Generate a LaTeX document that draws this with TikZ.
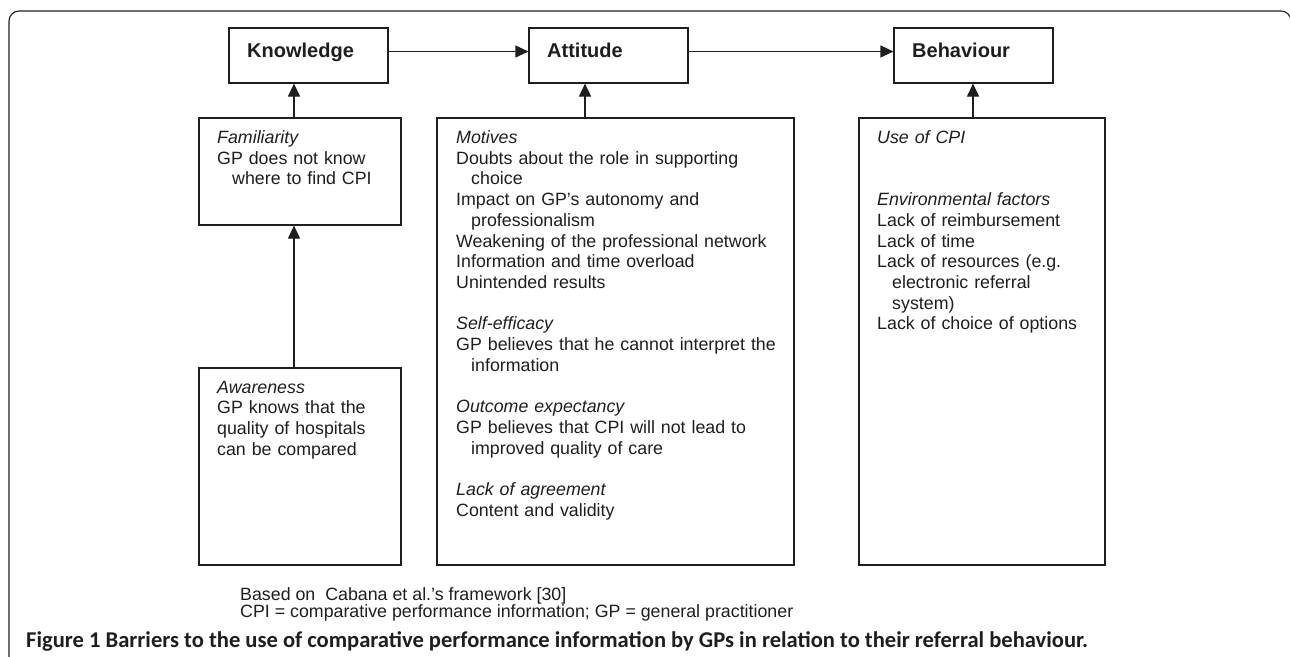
\documentclass[tikz,border=0pt]{standalone}
\usepackage{fontspec}
\setmainfont{Liberation Sans}
\newfontfamily\capfont{Carlito}
\usepackage{graphicx}
\usetikzlibrary{arrows.meta,calc}
\definecolor{ink}{HTML}{1E1E1E}
\newcommand\tstrut{\rule{0pt}{14pt}}
\tikzset{
  frame/.style={draw=ink, line width=1.1pt},
  boxed/.style={draw=ink, line width=1.2pt, rectangle, inner sep=0pt},
  head/.style={font=\fontsize{20}{24}\selectfont\bfseries, text=ink, inner sep=0pt, anchor=base west},
  body/.style={font=\fontsize{17.8}{20.7}\selectfont, text=ink, inner sep=0pt, anchor=north west, align=left},
  foot/.style={font=\fontsize{17.8}{19}\selectfont, text=ink, inner sep=0pt, anchor=base west},
  arr/.style={draw=ink, line width=1.2pt, -{Triangle[length=13pt,width=12pt]}},
}
\begin{document}
\begin{tikzpicture}[x=1pt,y=-1pt]
\useasboundingbox (0,0) rectangle (1290,656);
\draw[frame, rounded corners=10pt] (9,660) -- (9,11) -- (1291,11) -- (1291,40);

% top boxes
\node[boxed, minimum width=159pt, minimum height=55pt] (know) at (308.5,55.5) {};
\node[boxed, minimum width=159pt, minimum height=55pt] (atth) at (608.5,55.5) {};
\node[boxed, minimum width=159pt, minimum height=55pt] (behh) at (973.5,55.5) {};
\node[head] (knowt) at (247,57.5) {Knowledge};
\node[head] (attht) at (547,57.5) {Attitude};
\node[head] (behht) at (912,57.5) {Behaviour};

% content boxes
\node[boxed, minimum width=202pt, minimum height=107pt] (fam) at (300,171.5) {};
\node[boxed, minimum width=202pt, minimum height=197pt] (aware) at (300,466.5) {};
\node[boxed, minimum width=357pt, minimum height=447pt] (attb) at (615.5,341.5) {};
\node[boxed, minimum width=246pt, minimum height=447pt] (behb) at (982,341.5) {};

% arrows
\draw[arr] ([yshift=4pt]know.east) -- ([yshift=4pt]atth.west);
\draw[arr] ([yshift=4pt]atth.east) -- ([yshift=4pt]behh.west);
\draw[arr] ([xshift=-6pt]fam.north) -- ([xshift=-6pt]fam.north |- know.south);
\draw[arr] ([xshift=-6pt]aware.north) -- ([xshift=-6pt]fam.south);
\draw[arr] ([xshift=-30.5pt]attb.north) -- ([xshift=-30.5pt]attb.north |- atth.south);
\draw[arr] ([xshift=-9pt]behb.north) -- ([xshift=-9pt]behb.north |- behh.south);

% texts
\node[body, text width=180pt] (famt) at (217,129.3) {\tstrut\textit{Familiarity}\\
GP does not know\\
\hspace*{15pt}where to find CPI};

\node[body, text width=180pt] (awaret) at (217,379) {\tstrut\textit{Awareness}\\
GP knows that the\\
quality of hospitals\\
can be compared};

\node[body, text width=330pt] (attt) at (456,129.3) {\tstrut\textit{Motives}\\
\makebox[321pt][s]{Doubts about the role in supporting}\\
\hspace*{15pt}choice\\
\makebox[321pt][s]{Impact on GP's autonomy and}\\
\hspace*{15pt}professionalism\\
Weakening of the professional network\\
Information and time overload\\
Unintended results\\[20.7pt]
\textit{Self-efficacy}\\
\makebox[321pt][s]{GP believes that he cannot interpret the}\\
\hspace*{15pt}information\\[20.7pt]
\textit{Outcome expectancy}\\
\makebox[321pt][s]{GP believes that CPI will not lead to}\\
\hspace*{15pt}improved quality of care\\[20.7pt]
\textit{Lack of agreement}\\
Content and validity};

\node[body, text width=230pt] (beht) at (877,129.3) {\tstrut\textit{Use of CPI}\\[41.4pt]
\textit{Environmental factors}\\
Lack of reimbursement\\
Lack of time\\
Lack of resources (e.g.\\
\hspace*{15pt}electronic referral\\
\hspace*{15pt}system)\\
Lack of choice of options};

% notes
\node[foot] (basedon) at (240,600) {Based on\ \ Cabana et al.'s framework [30]};
\node[foot] (cpinote) at (240,617) {CPI = comparative performance information; GP = general practitioner};
\node[anchor=base west, inner sep=0pt, text=ink] (caption) at (26,647) {\resizebox{1062pt}{!}{\capfont\bfseries\fontsize{19.5}{22}\selectfont Figure 1 Barriers to the use of comparative performance information by GPs in relation to their referral behaviour.}};
\end{tikzpicture}
\end{document}
